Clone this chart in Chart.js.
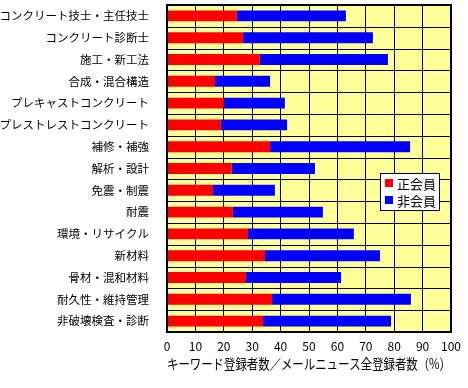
<!DOCTYPE html>
<html><head><meta charset="utf-8">
<script src="https://cdn.jsdelivr.net/npm/chart.js@4/dist/chart.umd.min.js"></script>
<style>html,body{margin:0;padding:0;background:#fff}#wrap{width:468px;height:388px}</style>
</head><body><div id="wrap"><canvas id="c" width="468" height="388"></canvas></div>
<script>
const categories = ["コンクリート技士・主任技士","コンクリート診断士","施工・新工法","合成・混合構造","プレキャストコンクリート","プレストレストコンクリート","補修・補強","解析・設計","免震・制震","耐震","環境・リサイクル","新材料","骨材・混和材料","耐久性・維持管理","非破壊検査・診断"];
const seriesNames = ["正会員","非会員"];
const regularMembers = [24.6,26.8,32.7,16.9,20.0,19.0,36.3,22.8,16.2,23.2,28.5,34.5,27.8,37.0,33.8];
const nonMembers = [38.4,45.7,45.1,19.4,21.5,23.3,49.3,29.3,21.8,31.7,37.3,40.5,33.5,48.9,45.1];
const xTicks = [0,10,20,30,40,50,60,70,80,90,100];
const xTitle = "キーワード登録者数／メールニュース全登録者数（%）";

const FONT = "'Noto Sans CJK JP', 'Noto Sans', sans-serif";

const bgPlugin = {
  id:'bg',
  beforeDraw(chart){
    const {ctx, chartArea:a} = chart;
    ctx.save(); ctx.fillStyle='#FFFF99';
    ctx.fillRect(a.left,a.top,a.right-a.left,a.bottom-a.top);
    ctx.restore();
  },
  beforeDatasetsDraw(chart){
    const {ctx, chartArea:a, scales} = chart;
    const ys = scales.y;
    ctx.save(); ctx.strokeStyle='#000'; ctx.lineWidth=1;
    for (let i=1;i<categories.length;i++){
      const yy = Math.round((ys.getPixelForValue(i-1)+ys.getPixelForValue(i))/2)+0.5;
      ctx.beginPath(); ctx.moveTo(a.left,yy); ctx.lineTo(a.right,yy); ctx.stroke();
    }
    ctx.restore();
  },
  afterDraw(chart){
    const {ctx, chartArea:a} = chart;
    ctx.save();
    ctx.strokeStyle='#000'; ctx.lineWidth=2;
    ctx.strokeRect(a.left,a.top,a.right-a.left,a.bottom-a.top);
    const x = 380, y = 173, w = 59, h = 37;
    ctx.fillStyle='#fff'; ctx.fillRect(x,y,w,h);
    ctx.lineWidth=1; ctx.strokeRect(x+0.5,y+0.5,w,h);
    ctx.font = "13px " + FONT; ctx.textBaseline='middle'; ctx.textAlign='left';
    chart.data.datasets.forEach((ds,i)=>{
      const cy = y + 10 + i*17;
      ctx.fillStyle = ds.backgroundColor;
      ctx.fillRect(x+5, cy-4, 8, 8);
      ctx.fillStyle='#000';
      ctx.fillText(ds.label, x+17, cy+1);
    });
    ctx.restore();
  }
};

new Chart(document.getElementById('c'), {
  type:'bar',
  data:{
    labels: categories,
    datasets:[
      {label:seriesNames[0], data:regularMembers, backgroundColor:'#FF0000', barPercentage:0.5, categoryPercentage:1.0},
      {label:seriesNames[1], data:nonMembers, backgroundColor:'#0000FF', barPercentage:0.5, categoryPercentage:1.0}
    ]
  },
  options:{
    indexAxis:'y',
    responsive:false,
    animation:false,
    layout:{padding:{left:0,right:17,top:5,bottom:15}},
    plugins:{legend:{display:false},tooltip:{enabled:false}},
    scales:{
      x:{
        stacked:true, min:0, max:100,
        afterBuildTicks(s){ s.ticks = xTicks.map(v=>({value:v})); },
        afterFit(s){ s.height = 41; s.paddingLeft = 0; s.paddingRight = 0; },
        grid:{color:'#000', lineWidth:1, drawTicks:false},
        border:{display:true,color:'#000',width:2},
        ticks:{color:'#000', font:{family:FONT,size:12}, padding:7, maxRotation:0},
        title:{display:true, text:xTitle, color:'#000', font:{family:FONT,size:14}, padding:{top:0,bottom:1}}
      },
      y:{
        stacked:true,
        afterFit(s){ s.width = 167; s.paddingTop = 0; s.paddingBottom = 0; },
        grid:{display:false},
        border:{display:true,color:'#000',width:2},
        ticks:{color:'#000', font:{family:FONT,size:11.5}, padding:10, autoSkip:false}
      }
    }
  },
  plugins:[bgPlugin]
});
</script>
</body></html>
